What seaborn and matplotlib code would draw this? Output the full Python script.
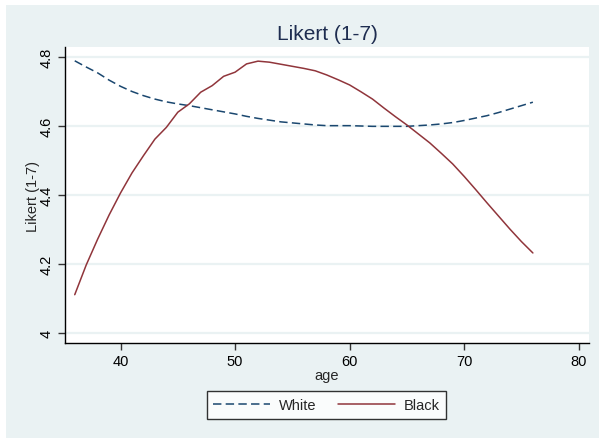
import numpy as np
import pandas as pd
import matplotlib
matplotlib.use("Agg")
import matplotlib.pyplot as plt
from matplotlib.patches import Rectangle
from matplotlib.lines import Line2D
import seaborn as sns

ages = list(range(36, 77))
white = [4.789, 4.771, 4.754, 4.733, 4.715, 4.700, 4.688, 4.678, 4.670, 4.664,
         4.659, 4.653, 4.647, 4.641, 4.635, 4.628, 4.622, 4.617, 4.612, 4.609,
         4.606, 4.603, 4.601, 4.601, 4.601, 4.600, 4.599, 4.599, 4.599, 4.599,
         4.601, 4.603, 4.606, 4.610, 4.616, 4.623, 4.630, 4.639, 4.649, 4.659,
         4.669]
black = [4.111, 4.197, 4.272, 4.342, 4.406, 4.464, 4.514, 4.562, 4.596, 4.640,
         4.664, 4.698, 4.717, 4.744, 4.756, 4.780, 4.788, 4.785, 4.779, 4.773,
         4.767, 4.760, 4.748, 4.734, 4.719, 4.699, 4.678, 4.652, 4.627, 4.603,
         4.577, 4.551, 4.521, 4.490, 4.454, 4.416, 4.377, 4.339, 4.301, 4.265,
         4.232]
series_names = ["White", "Black"]
yticks = [4.0, 4.2, 4.4, 4.6, 4.8]
ytick_labels = ["4", "4.2", "4.4", "4.6", "4.8"]
xticks = [40, 50, 60, 70, 80]

df = pd.DataFrame({
    "age": ages * 2,
    "value": white + black,
    "group": ["White"] * len(ages) + ["Black"] * len(ages),
})

sns.set_style("white")
plt.rcParams["font.family"] = ["Liberation Sans", "DejaVu Sans"]

W, H = 599, 439
fig = plt.figure(figsize=(W / 100, H / 100), dpi=100, facecolor="white")
bg = "#EAF2F3"
fig.patches.append(Rectangle((6 / W, 0), 1 - 6 / W, 1 - 6 / H, transform=fig.transFigure,
                             facecolor=bg, edgecolor="none", zorder=-10))

ax = fig.add_axes([65 / W, 1 - 344 / H, (589 - 65) / W, (344 - 48) / H])
ax.set_facecolor("white")

colors = {"White": "#1A476F", "Black": "#90353B"}
sns.lineplot(data=df, x="age", y="value", hue="group", style="group",
             palette=colors, dashes={"White": (5.5, 2.8), "Black": ""},
             hue_order=series_names, style_order=series_names,
             linewidth=1.1, ax=ax, legend=False, estimator=None)

ax.set_xlim(35.15, 80.9)
ax.set_ylim(3.971, 4.829)
ax.set_yticks(yticks)
ax.set_yticklabels(ytick_labels, rotation=90, va="center", fontsize=10.5)
ax.set_xticks(xticks)
ax.set_xticklabels([str(x) for x in xticks], fontsize=10.5)
ax.yaxis.grid(True, color=bg, linewidth=1.6)
ax.xaxis.grid(False)
ax.set_axisbelow(True)
for s in ["top", "right"]:
    ax.spines[s].set_visible(False)
for s in ["left", "bottom"]:
    ax.spines[s].set_color("black")
    ax.spines[s].set_linewidth(1.0)
ax.tick_params(axis="both", direction="out", length=5, width=1, color="#333333",
               labelcolor="black", pad=3, left=True, bottom=True)
ax.set_xlabel("age", fontsize=10.5, labelpad=0)
ax.set_ylabel("Likert (1-7)", fontsize=10.5, labelpad=0)
ax.set_title("Likert (1-7)", fontsize=15, color="#1E2D50", pad=6)

handles = [Line2D([], [], color=colors["White"], lw=1.1, dashes=(5.5, 2.8)),
           Line2D([], [], color=colors["Black"], lw=1.1)]
leg = fig.legend(handles, series_names, loc="center", bbox_to_anchor=(326.5 / W, 1 - 406 / H),
                 ncol=2, frameon=True, fancybox=False, fontsize=10.5, handlelength=3.9,
                 handletextpad=0.6, columnspacing=1.5, borderpad=0.45)
leg.get_frame().set_edgecolor("black")
leg.get_frame().set_linewidth(1.0)
leg.get_frame().set_facecolor("white")

fig.savefig("out.png", dpi=100, facecolor=fig.get_facecolor())
